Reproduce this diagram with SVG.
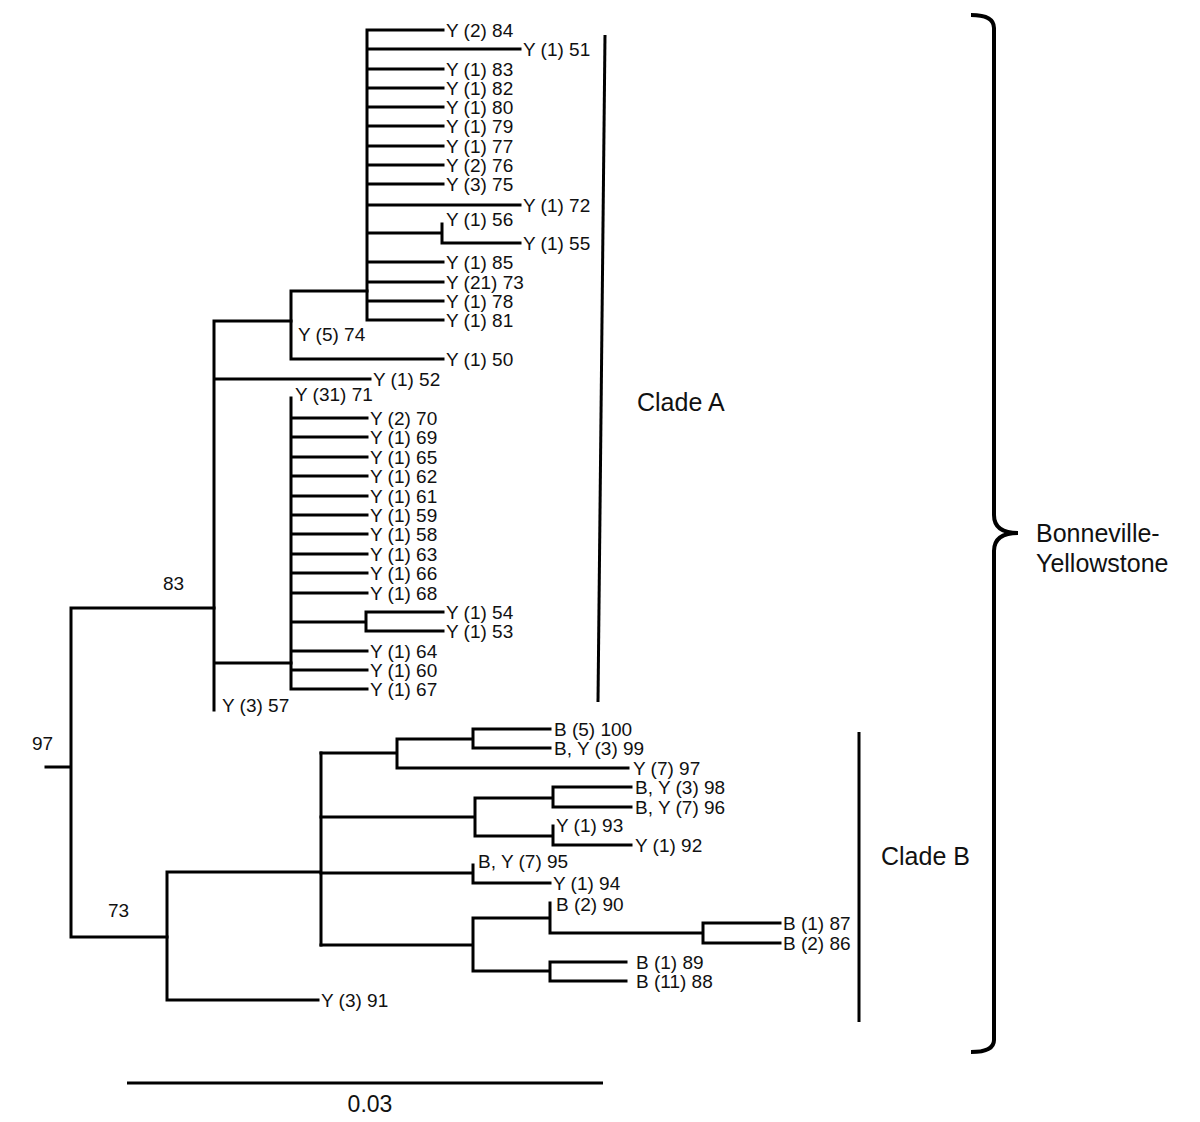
<svg xmlns="http://www.w3.org/2000/svg" width="1200" height="1122" viewBox="0 0 1200 1122">
<style>
.br{stroke:#000;stroke-width:3;fill:none;stroke-linecap:square}
.bar{stroke:#000;stroke-width:3;fill:none}
.lb{font-family:"Liberation Sans",Arial,sans-serif;font-size:19px;fill:#111}
.big{font-family:"Liberation Sans",Arial,sans-serif;font-size:25px;fill:#111}
</style>
<rect width="1200" height="1122" fill="#fff"/>
<g id="connectors">
<!-- root -->
<path class="br" d="M46,767H71M71,608V937M71,608H214M71,937H167"/>
<!-- clade A backbone -->
<path class="br" d="M214,321V710M214,321H291M214,379H370M214,663H291"/>
<!-- node 74 -->
<path class="br" d="M291,291V359M291,291H367M291,359H443"/>
<!-- polytomy top -->
<path class="br" d="M367,30V320M367,30H443M367,49H520M367,69H443M367,88H443M367,107H443M367,126H443M367,146H443M367,165H443M367,184H443M367,205H520M367,233H442M442,224V243M442,243H520M367,262H443M367,282H443M367,301H443M367,320H443"/>
<!-- node 71 -->
<path class="br" d="M291,398V689M291,418H367M291,437H367M291,457H367M291,476H367M291,496H367M291,515H367M291,534H367M291,554H367M291,573H367M291,593H367M291,622H366M366,612V631M366,612H443M366,631H443M291,651H367M291,670H367M291,689H367"/>
<!-- clade B -->
<path class="br" d="M167,872V1000M167,872H321M167,1000H318M321,753V945"/>
<path class="br" d="M321,753H397M397,739V768M397,739H473M473,729V748M473,729H550M473,748H550M397,768H628"/>
<path class="br" d="M321,817H475M475,798V836M475,798H553M553,787V807M553,787H631M553,807H631M475,836H553M553,826V845M553,845H631"/>
<path class="br" d="M321,873H473M473,865V883M473,883H550"/>
<path class="br" d="M321,945H473M473,918V971M473,918H550M550,903V933M550,933H703M703,923V943M703,923H780M703,943H780M473,971H550M550,962V981M550,962H626M550,981H626"/>
</g>
<g id="clade-bars">
<path class="bar" d="M605,35L598,702"/>
<path class="bar" d="M859,732V1022"/>
<path d="M971,15Q994,15 994,28V515Q994,533 1018,533Q994,533 994,551V1040Q994,1052 971,1052" stroke="#000" stroke-width="4" fill="none"/>
</g>
<g id="support">
<text class="lb" x="163" y="590">83</text>
<text class="lb" x="32" y="750">97</text>
<text class="lb" x="108" y="917">73</text>
</g>
<g id="leaves-A">
<g id="n84"><text class="lb" x="446" y="37">Y (2) 84</text></g>
<g id="n51"><text class="lb" x="523" y="56">Y (1) 51</text></g>
<g id="n83"><text class="lb" x="446" y="76">Y (1) 83</text></g>
<g id="n82"><text class="lb" x="446" y="95">Y (1) 82</text></g>
<g id="n80"><text class="lb" x="446" y="114">Y (1) 80</text></g>
<g id="n79"><text class="lb" x="446" y="133">Y (1) 79</text></g>
<g id="n77"><text class="lb" x="446" y="153">Y (1) 77</text></g>
<g id="n76"><text class="lb" x="446" y="172">Y (2) 76</text></g>
<g id="n75"><text class="lb" x="446" y="191">Y (3) 75</text></g>
<g id="n72"><text class="lb" x="523" y="212">Y (1) 72</text></g>
<g id="n56"><text class="lb" x="446" y="226">Y (1) 56</text></g>
<g id="n55"><text class="lb" x="523" y="250">Y (1) 55</text></g>
<g id="n85"><text class="lb" x="446" y="269">Y (1) 85</text></g>
<g id="n73"><text class="lb" x="446" y="289">Y (21) 73</text></g>
<g id="n78"><text class="lb" x="446" y="308">Y (1) 78</text></g>
<g id="n81"><text class="lb" x="446" y="327">Y (1) 81</text></g>
<g id="n74"><text class="lb" x="298" y="341">Y (5) 74</text></g>
<g id="n50"><text class="lb" x="446" y="366">Y (1) 50</text></g>
<g id="n52"><text class="lb" x="373" y="386">Y (1) 52</text></g>
<g id="n71"><text class="lb" x="295" y="401">Y (31) 71</text></g>
<g id="n70"><text class="lb" x="370" y="425">Y (2) 70</text></g>
<g id="n69"><text class="lb" x="370" y="444">Y (1) 69</text></g>
<g id="n65"><text class="lb" x="370" y="464">Y (1) 65</text></g>
<g id="n62"><text class="lb" x="370" y="483">Y (1) 62</text></g>
<g id="n61"><text class="lb" x="370" y="503">Y (1) 61</text></g>
<g id="n59"><text class="lb" x="370" y="522">Y (1) 59</text></g>
<g id="n58"><text class="lb" x="370" y="541">Y (1) 58</text></g>
<g id="n63"><text class="lb" x="370" y="561">Y (1) 63</text></g>
<g id="n66"><text class="lb" x="370" y="580">Y (1) 66</text></g>
<g id="n68"><text class="lb" x="370" y="600">Y (1) 68</text></g>
<g id="n54"><text class="lb" x="446" y="619">Y (1) 54</text></g>
<g id="n53"><text class="lb" x="446" y="638">Y (1) 53</text></g>
<g id="n64"><text class="lb" x="370" y="658">Y (1) 64</text></g>
<g id="n60"><text class="lb" x="370" y="677">Y (1) 60</text></g>
<g id="n67"><text class="lb" x="370" y="696">Y (1) 67</text></g>
<g id="n57"><text class="lb" x="222" y="712">Y (3) 57</text></g>
</g>
<g id="leaves-B">
<g id="n100"><text class="lb" x="554" y="736">B (5) 100</text></g>
<g id="n99"><text class="lb" x="554" y="755">B, Y (3) 99</text></g>
<g id="n97"><text class="lb" x="633" y="775">Y (7) 97</text></g>
<g id="n98"><text class="lb" x="635" y="794">B, Y (3) 98</text></g>
<g id="n96"><text class="lb" x="635" y="814">B, Y (7) 96</text></g>
<g id="n93"><text class="lb" x="556" y="832">Y (1) 93</text></g>
<g id="n92"><text class="lb" x="635" y="852">Y (1) 92</text></g>
<g id="n95"><text class="lb" x="478" y="868">B, Y (7) 95</text></g>
<g id="n94"><text class="lb" x="553" y="890">Y (1) 94</text></g>
<g id="n90"><text class="lb" x="556" y="911">B (2) 90</text></g>
<g id="n87"><text class="lb" x="783" y="930">B (1) 87</text></g>
<g id="n86"><text class="lb" x="783" y="950">B (2) 86</text></g>
<g id="n89"><text class="lb" x="636" y="969">B (1) 89</text></g>
<g id="n88"><text class="lb" x="636" y="988">B (11) 88</text></g>
<g id="n91"><text class="lb" x="321" y="1007">Y (3) 91</text></g>
</g>
<g id="labels">
<text class="big" x="637" y="411">Clade A</text>
<text class="big" x="881" y="865">Clade B</text>
<text class="big" x="1036" y="542">Bonneville-</text>
<text class="big" x="1036" y="572">Yellowstone</text>
</g>
<g id="scale">
<path class="bar" d="M127,1083H603"/>
<text class="big" x="370" y="1112" text-anchor="middle" style="font-size:23px">0.03</text>
</g>
</svg>
